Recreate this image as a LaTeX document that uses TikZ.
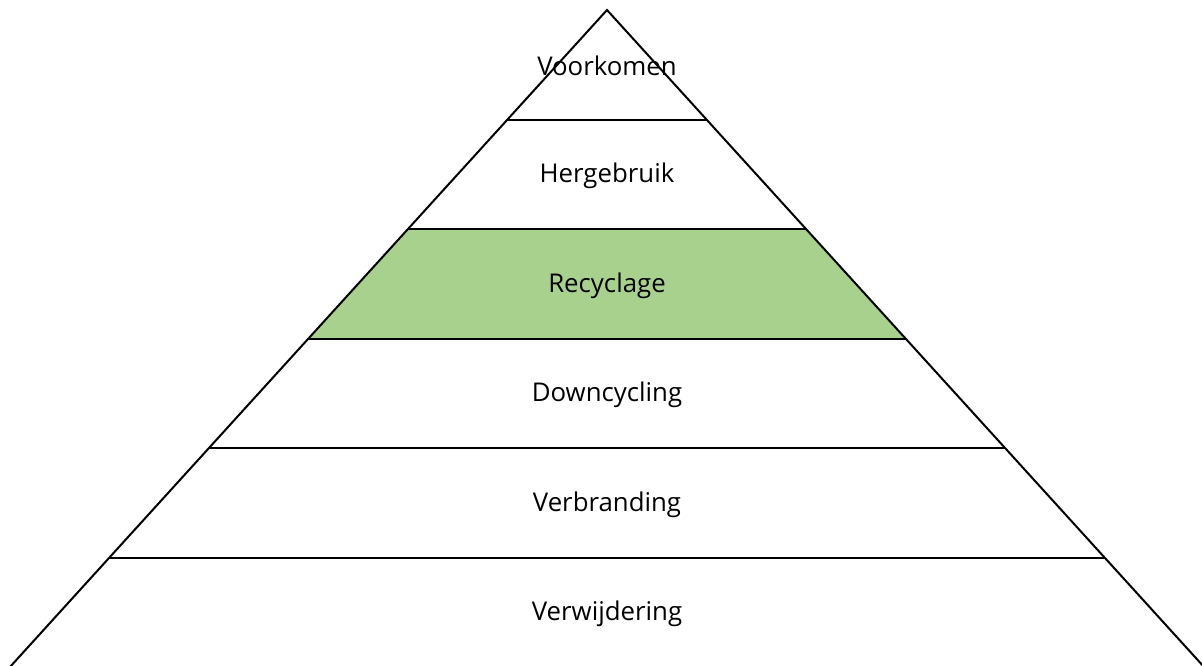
\documentclass[tikz,border=0pt]{standalone}
\usepackage{fontspec}
\setmainfont{Open Sans}
\usepackage{tikz}
\definecolor{lightgreen}{HTML}{A9D18E}

\begin{document}
\begin{tikzpicture}[x=1pt,y=-1pt,line width=2pt]
\tikzstyle{every node}=[font=\fontsize{25.8}{31}\selectfont,text=black,inner sep=0pt]
\tikzstyle{layer}=[draw=black]
\useasboundingbox (0,0) rectangle (1202,665);

\coordinate (top) at (607,10);
\coordinate (L1) at (507.4,119.6);  \coordinate (R1) at (706.6,119.6);
\coordinate (L2) at (407.8,229.2);  \coordinate (R2) at (806.2,229.2);
\coordinate (L3) at (308.2,338.8);  \coordinate (R3) at (905.8,338.8);
\coordinate (L4) at (208.6,448.4);  \coordinate (R4) at (1005.4,448.4);
\coordinate (L5) at (109,558);      \coordinate (R5) at (1105,558);
\coordinate (L6) at (9.4,667.6);    \coordinate (R6) at (1204.6,667.6);

% highlighted layer
\fill[lightgreen] (L2) -- (R2) -- (R3) -- (L3) -- cycle;

% outline and layer borders
\draw (L6) -- (top) -- (R6);
\draw[layer] (L1) -- (R1);
\draw[layer] (L2) -- (R2);
\draw[layer] (L3) -- (R3);
\draw[layer] (L4) -- (R4);
\draw[layer] (L5) -- (R5);

\node (voorkomen)    at (607,66)    {Voorkomen};
\node (hergebruik)   at (607,176)   {Hergebruik};
\node (recyclage)    at (607,285.5) {Recyclage};
\node (downcycling)  at (607,394.5) {Downcycling};
\node (verbranding)  at (607,504.5) {Verbranding};
\node (verwijdering) at (607,614)   {Verwijdering};
\end{tikzpicture}
\end{document}
